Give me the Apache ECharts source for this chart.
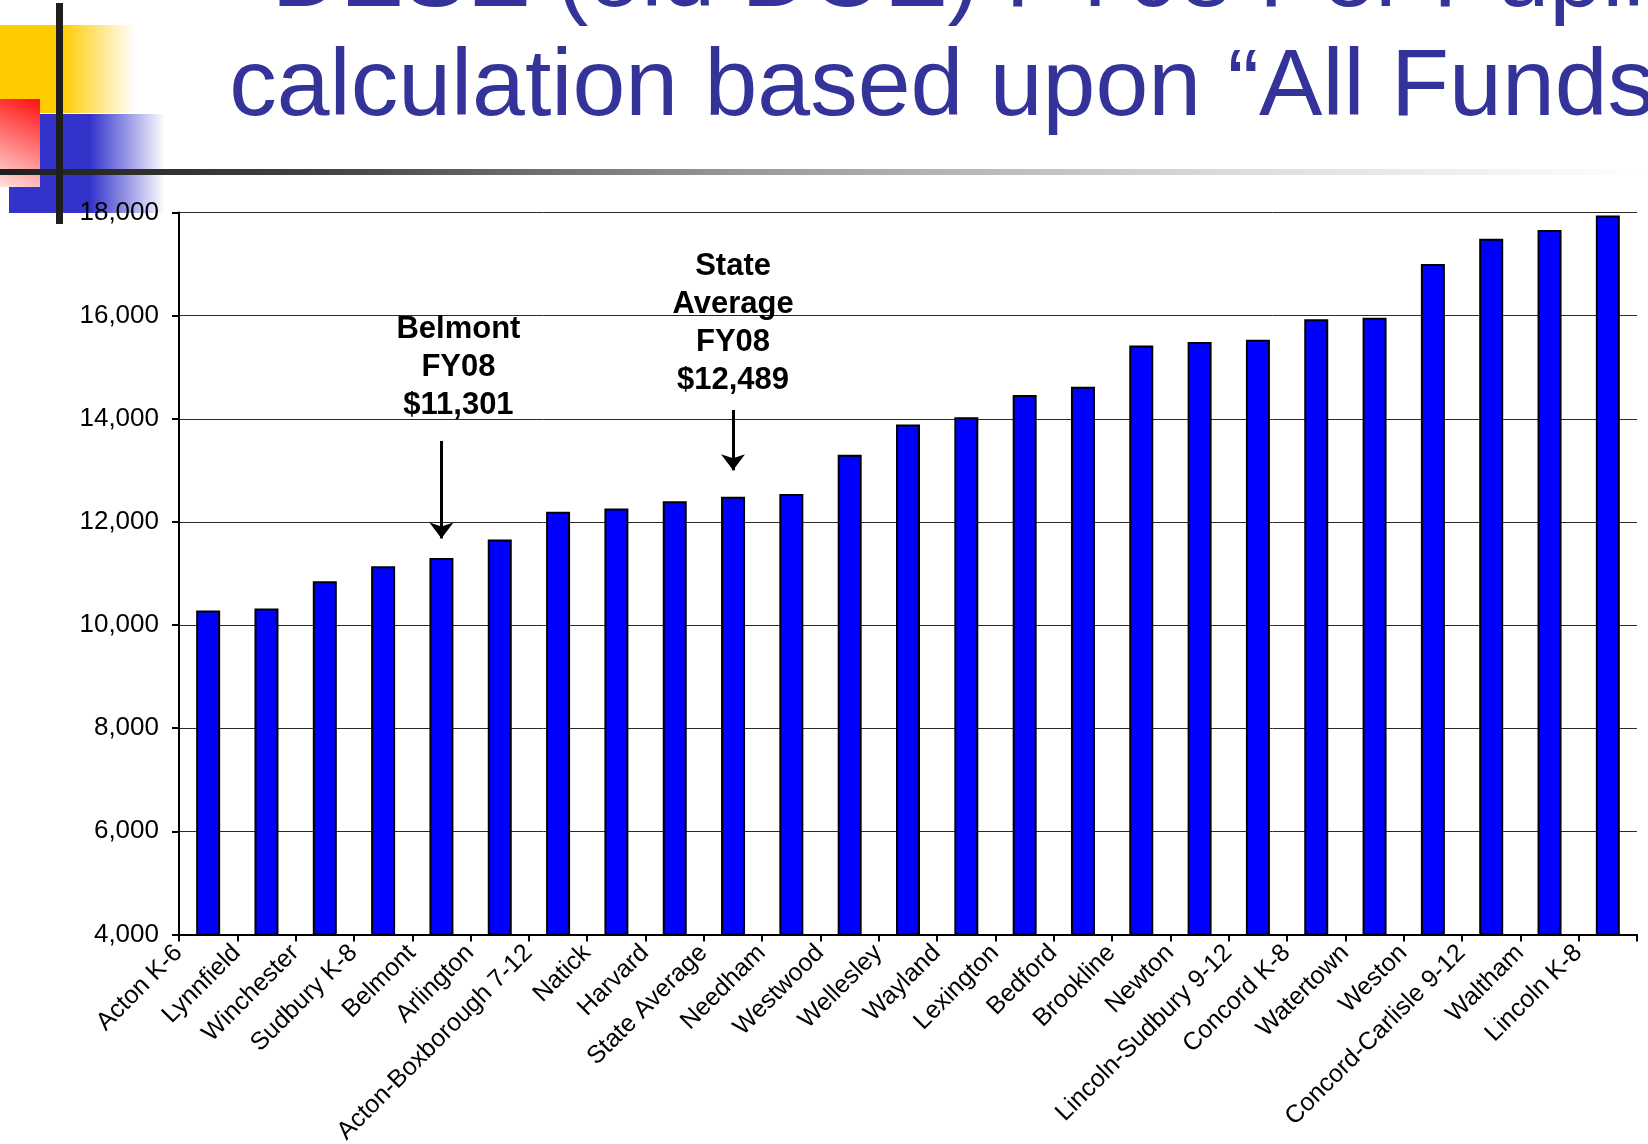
<!DOCTYPE html>
<html>
<head>
<meta charset="utf-8">
<script src="https://cdn.jsdelivr.net/npm/echarts@6/dist/echarts.min.js"></script>
<style>
html,body{margin:0;padding:0;background:#fff;}
#chart{width:1648px;height:1144px;}
</style>
</head>
<body>
<div id="chart"></div>
<script>
var categories = ['Acton K-6','Lynnfield','Winchester','Sudbury K-8','Belmont','Arlington','Acton-Boxborough 7-12','Natick','Harvard','State Average','Needham','Westwood','Wellesley','Wayland','Lexington','Bedford','Brookline','Newton','Lincoln-Sudbury 9-12','Concord K-8','Watertown','Weston','Concord-Carlisle 9-12','Waltham','Lincoln K-8'];
var perPupil = [10280,10320,10850,11140,11301,11660,12195,12260,12400,12489,12540,13300,13890,14030,14460,14620,15420,15490,15530,15930,15960,17000,17490,17660,17940];
var yTicks = [4000,6000,8000,10000,12000,14000,16000,18000];
var titleLines = ['DESE (old DOE) FY08 Per Pupil', 'calculation based upon \u201CAll Funds\u201D'];
var annoCats = ['Belmont','State Average'];
var annoTexts = ['Belmont\nFY08\n$11,301', 'State\nAverage\nFY08\n$12,489'];
var annoTextAt = [15000, 15850];
var arrowFrom = [13570, 14170];
var arrowTo = [11680, 13000];

var chart = echarts.init(document.getElementById('chart'), null, {renderer:'canvas'});
var FONT = '"Liberation Sans", Arial, sans-serif';

var option = {
  animation: false,
  backgroundColor: '#ffffff',
  grid: {left: 179, right: 11, top: 212.5, bottom: 209.6, containLabel: false, outerBoundsMode: 'none'},
  xAxis: {
    type: 'category',
    data: categories,
    boundaryGap: true,
    axisLine: {lineStyle: {color: '#000', width: 2}},
    axisTick: {show: true, inside: false, length: 7, alignWithLabel: false, lineStyle: {color: '#000', width: 2}},
    axisLabel: {interval: 0, rotate: 45, margin: -15, color: '#000', fontFamily: FONT, fontSize: 25, padding: [0, 42, 0, 0]},
    splitLine: {show: false}
  },
  yAxis: {
    type: 'value',
    min: yTicks[0],
    max: yTicks[yTicks.length - 1],
    interval: yTicks[1] - yTicks[0],
    axisLine: {show: true, lineStyle: {color: '#000', width: 2}},
    axisTick: {show: true, inside: false, length: 7, lineStyle: {color: '#000', width: 2}},
    axisLabel: {margin: 20, color: '#000', fontFamily: FONT, fontSize: 26,
      formatter: function (v) { return v.toLocaleString('en-US'); }},
    splitLine: {show: true, lineStyle: {color: '#2a2a2a', width: 1}}
  },
  graphic: [
    {type: 'rect', z: -10, shape: {x: 0, y: 25, width: 135, height: 88},
      style: {fill: new echarts.graphic.LinearGradient(0, 0, 1, 0, [
        {offset: 0, color: '#FFCC00'}, {offset: 0.46, color: '#FFCC00'}, {offset: 1, color: 'rgba(255,204,0,0)'}])}},
    {type: 'rect', z: -9, shape: {x: 9, y: 114, width: 156, height: 99},
      style: {fill: new echarts.graphic.LinearGradient(0, 0, 1, 0, [
        {offset: 0, color: '#3333CC'}, {offset: 0.52, color: '#3333CC'}, {offset: 1, color: 'rgba(51,51,204,0)'}])}},
    {type: 'rect', z: -8, shape: {x: 0, y: 99, width: 40, height: 88},
      style: {fill: new echarts.graphic.LinearGradient(1, 0, 0, 1, [
        {offset: 0, color: '#FF1010'}, {offset: 1, color: '#FFE0E0'}])}},
    {type: 'rect', z: -7, shape: {x: 0, y: 169, width: 1648, height: 6},
      style: {fill: new echarts.graphic.LinearGradient(0, 0, 1, 0, [
        {offset: 0, color: '#1e1e1e'}, {offset: 0.2, color: '#444'}, {offset: 0.45, color: '#999'},
        {offset: 0.75, color: '#dcdcdc'}, {offset: 1, color: '#ffffff'}])}},
    {type: 'rect', z: -6, shape: {x: 56, y: 3, width: 7, height: 221}, style: {fill: '#1e1e1e'}},
    {type: 'text', z: 5, x: 958, y: -20,
      style: {text: titleLines[0], fill: '#333399', font: '95px ' + FONT, textAlign: 'center', textVerticalAlign: 'middle'}},
    {type: 'text', z: 5, x: 958, y: 89,
      style: {text: titleLines[1], fill: '#333399', font: '95px ' + FONT, textAlign: 'center', textVerticalAlign: 'middle'}}
  ],
  series: [{
    type: 'bar',
    data: perPupil,
    barWidth: 24,
    itemStyle: {color: '#0000FF', borderColor: '#000', borderWidth: 2},
    markLine: {
      silent: true,
      symbol: ['none', 'arrow'],
      symbolSize: [18, 16],
      lineStyle: {color: '#000', width: 3, type: 'solid'},
      label: {show: false},
      data: annoCats.map(function (c, i) {
        return [{coord: [c, arrowFrom[i]]}, {coord: [c, arrowTo[i]]}];
      })
    },
    markPoint: {
      silent: true,
      symbol: 'circle',
      symbolSize: 0,
      data: annoCats.map(function (c, i) {
        return {coord: [c, annoTextAt[i]], value: annoTexts[i],
          label: {show: true, position: 'inside', offset: [i === 0 ? 17 : 0, 0], formatter: annoTexts[i],
            color: '#000', fontFamily: FONT, fontWeight: 'bold', fontSize: 31, lineHeight: 38, align: 'center'}};
      })
    }
  }]
};
chart.setOption(option);
</script>
</body>
</html>
